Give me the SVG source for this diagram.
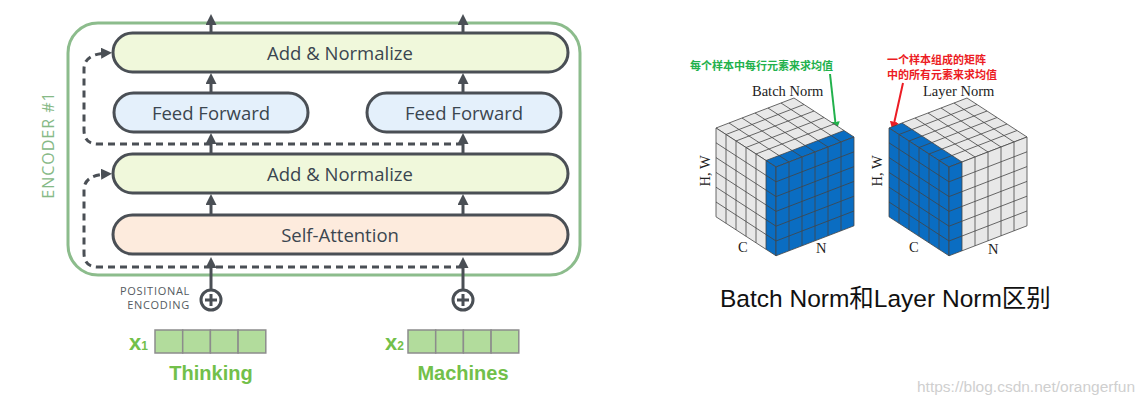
<svg xmlns="http://www.w3.org/2000/svg" xmlns:xlink="http://www.w3.org/1999/xlink" width="1147" height="405" viewBox="0 0 1147 405">
<style>
.box{stroke:#4a4f55;stroke-width:3}
.lbl{font-family:"Open Sans","DejaVu Sans",sans-serif;font-size:18.5px;font-weight:500;fill:#3b4650;text-anchor:middle;dominant-baseline:central}
.arr{stroke:#4a4f55;stroke-width:3;fill:none;marker-end:url(#ah)}
.dash{stroke:#4a4f55;stroke-width:3;fill:none;stroke-dasharray:7 5;marker-end:url(#ah)}
.pe{font-family:"Open Sans","DejaVu Sans",sans-serif;font-size:11px;letter-spacing:0.7px;fill:#555b61;text-anchor:end}
.word{font-family:"Liberation Sans",Arial,sans-serif;font-weight:bold;font-size:20px;fill:#72c04a;text-anchor:middle}
.xv{font-family:"Liberation Sans",Arial,sans-serif;font-weight:bold;font-size:22px;fill:#72c04a}
.cell{fill:#b2dc9c;stroke:#8c8c8c;stroke-width:1.5}
.ser{font-family:"Liberation Serif","Times New Roman",serif;font-size:14.5px;fill:#222}
.grid{fill:none;stroke:#444;stroke-width:0.8;vector-effect:non-scaling-stroke}
.gray{fill:#e8e8e8}
.blue{fill:#0a6dc2}
.cn{font-family:"Noto Sans CJK SC",sans-serif;font-weight:bold;font-size:11px}
</style>
<defs>
<marker id="ah" viewBox="0 0 11 11" refX="6" refY="5.5" markerWidth="11" markerHeight="11" markerUnits="userSpaceOnUse" orient="auto"><path d="M0,0 L11,5.5 L0,11 z" fill="#4a4f55"/></marker>
<marker id="ahg" viewBox="0 0 10 10" refX="7" refY="5" markerWidth="9" markerHeight="9" markerUnits="userSpaceOnUse" orient="auto"><path d="M0,0 L10,5 L0,10 z" fill="#22b14c"/></marker>
<marker id="ahr" viewBox="0 0 10 10" refX="7" refY="5" markerWidth="9" markerHeight="9" markerUnits="userSpaceOnUse" orient="auto"><path d="M0,0 L10,5 L0,10 z" fill="#ec1c24"/></marker>
<path id="g6" class="grid" d="M0,0H6M0,1H6M0,2H6M0,3H6M0,4H6M0,5H6M0,6H6M0,0V6M1,0V6M2,0V6M3,0V6M4,0V6M5,0V6M6,0V6"/>
</defs>

<g id="encoder">
<rect x="68" y="23" width="512" height="252" rx="30" fill="none" stroke="#8cbc8c" stroke-width="3"/>
<text x="48" y="145" transform="rotate(-90 48 145)" font-family="'Open Sans','DejaVu Sans',sans-serif" font-size="16" letter-spacing="1" fill="#86b986" text-anchor="middle" dominant-baseline="central">ENCODER #1</text>
</g>

<g id="add-norm-top">
<rect class="box" x="113" y="33" width="455" height="39" rx="19.5" fill="#f0f8db"/>
<text class="lbl" x="340" y="52.5">Add &amp; Normalize</text>
</g>
<g id="ff-left">
<rect class="box" x="114" y="93" width="194" height="39" rx="19.5" fill="#e4f0fb"/>
<text class="lbl" x="211" y="112.5">Feed Forward</text>
</g>
<g id="ff-right">
<rect class="box" x="367" y="93" width="194" height="39" rx="19.5" fill="#e4f0fb"/>
<text class="lbl" x="464" y="112.5">Feed Forward</text>
</g>
<g id="add-norm-bottom">
<rect class="box" x="113" y="154" width="455" height="39" rx="19.5" fill="#f0f8db"/>
<text class="lbl" x="340" y="173.5">Add &amp; Normalize</text>
</g>
<g id="self-attention">
<rect class="box" x="113" y="215" width="455" height="39" rx="19.5" fill="#fdebdd"/>
<text class="lbl" x="340" y="234.5">Self-Attention</text>
</g>

<g id="pos-enc-1">
<text class="pe" x="190" y="295">POSITIONAL</text>
<text class="pe" x="190" y="308.5">ENCODING</text>
<circle cx="211" cy="300" r="10" fill="#fff" stroke="#4a4f55" stroke-width="3"/>
<path d="M205,300H217M211,294V306" stroke="#4a4f55" stroke-width="3"/>
</g>
<g id="pos-enc-2">
<circle cx="463" cy="300" r="10" fill="#fff" stroke="#4a4f55" stroke-width="3"/>
<path d="M457,300H469M463,294V306" stroke="#4a4f55" stroke-width="3"/>
</g>

<g id="x1">
<text class="xv" x="129" y="350">x<tspan font-size="12">1</tspan></text>
<rect class="cell" x="155" y="330" width="27.7" height="23"/>
<rect class="cell" x="182.7" y="330" width="27.7" height="23"/>
<rect class="cell" x="210.4" y="330" width="27.7" height="23"/>
<rect class="cell" x="238.1" y="330" width="27.7" height="23"/>
<text class="word" x="211" y="380">Thinking</text>
</g>
<g id="x2">
<text class="xv" x="385" y="350">x<tspan font-size="12">2</tspan></text>
<rect class="cell" x="408" y="330" width="27.7" height="23"/>
<rect class="cell" x="435.7" y="330" width="27.7" height="23"/>
<rect class="cell" x="463.4" y="330" width="27.7" height="23"/>
<rect class="cell" x="491.1" y="330" width="27.7" height="23"/>
<text class="word" x="463" y="380">Machines</text>
</g>

<g id="connectors">
<path class="dash" d="M463,267H98Q84,267 84,253V190Q84,175 107,174"/>
<path class="dash" d="M463,144H98Q84,144 84,130V69Q84,54 107,53"/>
<path class="arr" d="M211,33V19"/>
<path class="arr" d="M463,33V19"/>
<path class="arr" d="M211,93V78"/>
<path class="arr" d="M463,93V78"/>
<path class="arr" d="M211,154V138"/>
<path class="arr" d="M463,154V138"/>
<path class="arr" d="M211,215V199"/>
<path class="arr" d="M463,215V199"/>
<path class="arr" d="M211,289V262"/>
<path class="arr" d="M463,289V262"/>
<path d="M830,74L836,128" stroke="#22b14c" stroke-width="2" fill="none" marker-end="url(#ahg)"/>
<path d="M903,83L893,128" stroke="#ec1c24" stroke-width="2" fill="none" marker-end="url(#ahr)"/>
</g>

<g id="batch-norm">
<text class="cn" x="690" y="69.5" fill="#22b14c">每个样本中每行元素来求均值</text>
<text class="ser" x="752" y="96">Batch Norm</text>
<text class="ser" transform="translate(710 171) rotate(-90)" text-anchor="middle">H, W</text>
<text class="ser" x="738" y="252">C</text>
<text class="ser" x="816" y="253">N</text>
<g transform="matrix(10 6.5 13 -5 716 128)">
<polygon class="gray" points="0,0 5,0 5,6 0,6"/>
<polygon class="blue" points="5,0 6,0 6,6 5,6"/>
<use xlink:href="#g6"/>
</g>
<g transform="matrix(10 6.5 0 14.8 716 128)">
<polygon class="gray" points="0,0 5,0 5,6 0,6"/>
<polygon class="blue" points="5,0 6,0 6,6 5,6"/>
<use xlink:href="#g6"/>
</g>
<g transform="matrix(13 -5 0 14.8 776 167)">
<polygon class="blue" points="0,0 6,0 6,6 0,6"/>
<use xlink:href="#g6"/>
</g>
</g>

<g id="layer-norm">
<text class="cn" x="887" y="64" fill="#ec1c24">一个样本组成的矩阵</text>
<text class="cn" x="887" y="78.5" fill="#ec1c24">中的所有元素来求均值</text>
<text class="ser" x="923" y="96">Layer Norm</text>
<text class="ser" transform="translate(882 171) rotate(-90)" text-anchor="middle">H, W</text>
<text class="ser" x="909" y="252">C</text>
<text class="ser" x="988" y="254">N</text>
<g transform="matrix(10 6.5 13 -5 889 128)">
<polygon class="gray" points="0,1 6,1 6,6 0,6"/>
<polygon class="blue" points="0,0 6,0 6,1 0,1"/>
<use xlink:href="#g6"/>
</g>
<g transform="matrix(10 6.5 0 14.8 889 128)">
<polygon class="blue" points="0,0 6,0 6,6 0,6"/>
<use xlink:href="#g6"/>
</g>
<g transform="matrix(13 -5 0 14.8 949 167)">
<polygon class="blue" points="0,0 1,0 1,6 0,6"/>
<polygon class="gray" points="1,0 6,0 6,6 1,6"/>
<use xlink:href="#g6"/>
</g>
</g>

<g id="caption">
<text x="720" y="307" font-family="'Liberation Sans','Noto Sans CJK SC',sans-serif" font-size="24.5" fill="#111">Batch Norm和Layer Norm区别</text>
<text x="917" y="392" font-family="'Liberation Sans',Arial,sans-serif" font-size="15.5" fill="#cfcfcf">https://blog.csdn.net/orangerfun</text>
</g>
</svg>
